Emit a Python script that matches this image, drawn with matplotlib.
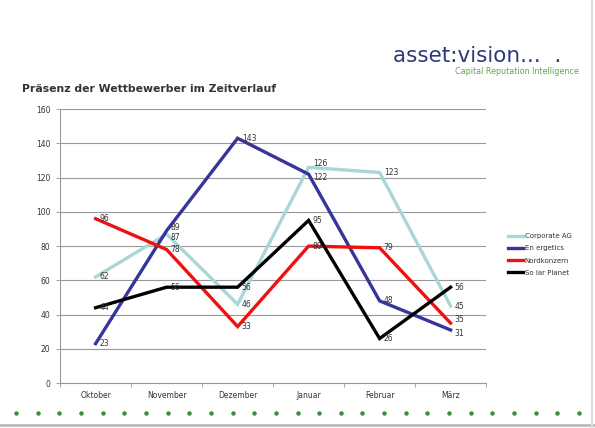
import matplotlib
matplotlib.use("Agg")
import matplotlib.pyplot as plt
import numpy as np

months = ["Oktober", "November", "Dezember", "Januar", "Februar", "März"]
series_names = ["Corporate AG", "Energetics", "Nordkonzern", "SolarPlanet"]
corporate = [62, 87, 46, 126, 123, 45]
energetics = [23, 89, 143, 122, 48, 31]
nordkonzern = [96, 78, 33, 80, 79, 35]
solarplanet = [44, 56, 56, 95, 26, 56]
yticks = [0, 20, 40, 60, 80, 100, 120, 140, 160]

colors = ["#A9D6D6", "#35359A", "#F01010", "#000000"]
legend_labels = ["Corporate AG", "En ergetics", "Nordkonzern", "So lar Planet"]
data = [corporate, energetics, nordkonzern, solarplanet]

fig = plt.figure(figsize=(5.95, 4.28), dpi=100)
fig.patch.set_facecolor("white")
ax = fig.add_axes([0.101, 0.105, 0.716, 0.64])

x = np.arange(len(months))
lines = []
for si, (vals, c, lab) in enumerate(zip(data, colors, legend_labels)):
    ln, = ax.plot(x, vals, color=c, lw=2.4, label=lab, solid_joinstyle="miter", zorder=3)
    lines.append(ln)
    for xi, v in zip(x, vals):
        dy = 0
        # slight nudges where two labels sit on nearly the same value
        if (si, xi) in [(1, 1), (0, 3), (2, 5)]:
            dy = 2.5
        if (si, xi) in [(0, 1), (1, 3), (1, 5)]:
            dy = -2.5
        ax.annotate(str(v), (xi, v), xytext=(3, dy), textcoords="offset points",
                    fontsize=5.5, color="#333333", va="center", ha="left", zorder=4)

ax.set_xlim(-0.5, len(months) - 0.5)
ax.set_ylim(0, 160)
ax.set_yticks(yticks)
ax.set_yticklabels([str(t) for t in yticks], fontsize=5.5, color="#333333")
ax.set_xticks(x)
ax.set_xticklabels(months, fontsize=5.5, color="#333333")
ax.tick_params(axis="x", length=0, pad=6)
ax.tick_params(axis="y", length=3, width=0.6, color="#999999", pad=4)
ax.set_xticks(np.arange(-0.5, len(months), 1), minor=True)
ax.tick_params(axis="x", which="minor", length=3, width=0.6, color="#999999")
ax.yaxis.grid(True, color="#999999", lw=0.8)
ax.set_axisbelow(True)
for s in ["top", "right"]:
    ax.spines[s].set_visible(False)
ax.spines["left"].set_color("#999999")
ax.spines["bottom"].set_color("#999999")
ax.spines["left"].set_linewidth(0.8)
ax.spines["bottom"].set_linewidth(0.8)

leg = fig.legend(handles=lines, labels=legend_labels, loc="upper left",
                 bbox_to_anchor=(0.843, 0.47), frameon=False, fontsize=5.0,
                 handlelength=2.2, handletextpad=0.2, labelspacing=0.9)
for t in leg.get_texts():
    t.set_color("#333333")

fig.text(0.037, 0.792, "Präsenz der Wettbewerber im Zeitverlauf", fontsize=7.8,
         fontweight="bold", color="#333333", ha="left", va="center")

fig.text(0.66, 0.87, "asset:vision...  .", fontsize=15.5, color="#2E3A78",
         ha="left", va="center")
fig.text(0.765, 0.832, "Capital Reputation Intelligence", fontsize=5.8,
         color="#5DAA4A", ha="left", va="center")

dot_x = np.linspace(0.027, 0.973, 27)
fig.lines.append(plt.Line2D(dot_x, [0.035] * len(dot_x), transform=fig.transFigure,
                            ls="none", marker="o", ms=2.2, color="#3E8A3E"))
fig.lines.append(plt.Line2D([0.0, 1.0], [0.008, 0.008], transform=fig.transFigure,
                            color="#BBBBBB", lw=2))
fig.lines.append(plt.Line2D([0.995, 0.995], [0.0, 1.0], transform=fig.transFigure,
                            color="#DDDDDD", lw=1.5))

fig.savefig("out.png", dpi=100)
